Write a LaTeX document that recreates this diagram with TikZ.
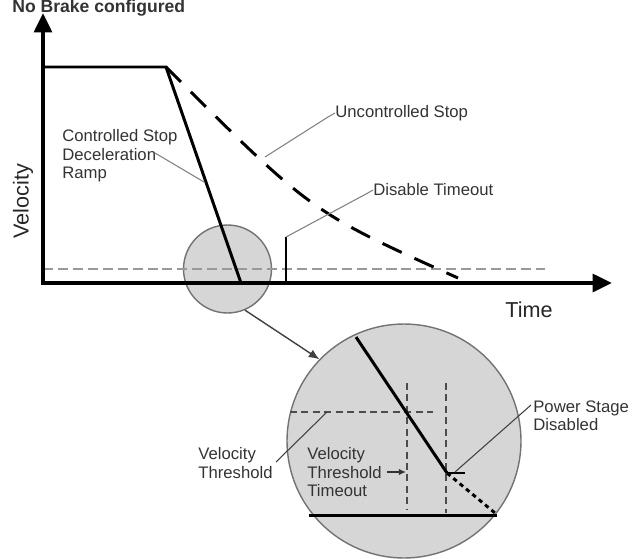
\documentclass[tikz,border=0pt]{standalone}
\usepackage{fontspec}
\setmainfont{Liberation Sans}
\usetikzlibrary{shapes,arrows.meta,positioning}

\newcommand{\lblfont}{\fontsize{9.5}{10.6}\selectfont}
\newcommand{\axfont}{\fontsize{12.3}{14}\selectfont}

\begin{document}
\begin{tikzpicture}[x=0.02cm, y=-0.02cm,
    axis/.style={line width=2.3pt, {Triangle[length=11pt,width=10pt]}-{Triangle[length=11pt,width=10pt]}},
    ramp/.style={line width=1.7pt},
    lbl/.style={font=\lblfont, text=black!80, align=left, inner sep=0pt},
    lead/.style={draw=black!50, line width=0.6pt},
    lens/.style={circle, draw=black!55, fill=black!16, line width=0.8pt, inner sep=0pt},
    thr/.style={draw=black!40, line width=1.1pt, dash pattern=on 5.7pt off 2.8pt},
    guide/.style={draw=black!70, line width=0.7pt, dash pattern=on 4pt off 2.5pt}]
    \useasboundingbox (0,0) rectangle (632,558);
    \node [anchor=base west, inner sep=0pt, text=black!80, font=\fontsize{10}{12}\selectfont\bfseries] (title) at (12,12.5) {No Brake configured};

    \node [lens, minimum size=1.76cm] (small) at (227.5,269) {};
    \node [lens, minimum size=4.68cm] (big) at (404,441) {};
    \draw [draw=black!75, line width=0.8pt, -{Latex[length=6pt,width=5pt]}] (small.-67) -- (big.136);

    \coordinate (O) at (43,283);
    \coordinate (ytip) at (43,13);
    \coordinate (xtip) at (612,283);
    \coordinate (run) at (43,67);
    \coordinate (knee) at (166,67);
    \coordinate (stop) at (241,283);
    \coordinate (coast) at (458,278);
    \coordinate (distop) at (286,237);
    \coordinate (disbot) at (286,283);

    \draw [thr] (43,269) -- (545,269);
    \draw [axis] (ytip) -- (O) -- (xtip);
    \draw [ramp] (run) -- (knee) -- (stop);
    \draw [ramp, dash pattern=on 12pt off 8pt] (knee) .. controls (311,212) .. (coast);
    \draw [ramp] (disbot) -- (distop);

    \node [rotate=90, font=\axfont, text=black!85] (vel) at (23,201) {Velocity};
    \node [font=\axfont, text=black!85] (time) at (529,310) {Time};

    \node [lbl, anchor=north west] (ctrl) at (62,129) {Controlled Stop\\Deceleration\\Ramp};
    \node [lbl, anchor=west] (unc) at (335,113) {Uncontrolled Stop};
    \node [lbl, anchor=west] (dis) at (373,190) {Disable Timeout};
    \coordinate (ctrlend) at (155,153);
    \coordinate (ctrlpt) at (204,182);
    \coordinate (uncpt) at (265,157);
    \draw [lead] (ctrlend) -- (ctrlpt);
    \draw [lead] (unc.west) -- (328,117) -- (uncpt);
    \draw [lead] (dis.west) -- (366,194) -- (distop);

    % inside the zoomed view
    \coordinate (zr1) at (356,337);
    \coordinate (zoff) at (447,473);
    \coordinate (zr2) at (495,513);
    \draw [guide] (290,412) -- (433,412);
    \draw [guide] (407,383) -- (407,510);
    \draw [guide] (446,383) -- (446,513);
    \draw [ramp] (309,515) -- (497,515);
    \draw [ramp] (zr1) -- (zoff);
    \draw [ramp, dash pattern=on 2.5pt off 2.2pt] (zoff) -- (zr2);
    \draw [line width=0.8pt] (zoff) -- (465,473);

    \node [lbl, anchor=north west] (vthr) at (198,447) {Velocity\\Threshold};
    \node [lbl, anchor=north west] (vtto) at (307,447) {Velocity\\Threshold\\Timeout};
    \node [lbl, anchor=north west] (psd) at (533,400) {Power Stage\\Disabled};
    \coordinate (vthrend) at (276,462);
    \coordinate (vthrpt) at (327,412);
    \coordinate (vttoend) at (387,472);
    \coordinate (vttopt) at (406,472);
    \draw [draw=black!75, line width=0.6pt] (vthrend) -- (vthrpt);
    \draw [draw=black!80, line width=0.7pt, -{Latex[length=4pt,width=3.5pt]}] (vttoend) -- (vttopt);
    \draw [draw=black!75, line width=0.6pt] (psd.north west) ++(-2,5) -- (455,472);
\end{tikzpicture}
\end{document}
